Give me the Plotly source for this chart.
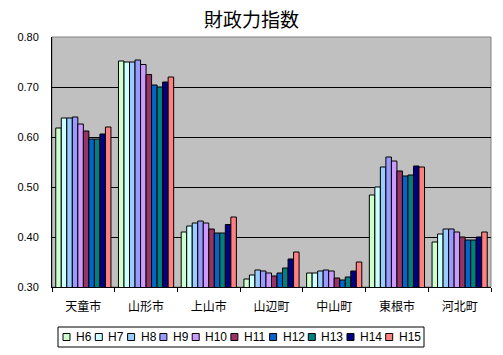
import plotly.graph_objects as go

categories = ["天童市", "山形市", "上山市", "山辺町", "中山町", "東根市", "河北町"]
series_names = ["H6", "H7", "H8", "H9", "H10", "H11", "H12", "H13", "H14", "H15"]

H6 = [0.618, 0.752, 0.410, 0.316, 0.328, 0.484, 0.390]
H7 = [0.638, 0.750, 0.422, 0.324, 0.328, 0.500, 0.406]
H8 = [0.638, 0.750, 0.428, 0.334, 0.332, 0.540, 0.416]
H9 = [0.640, 0.754, 0.432, 0.332, 0.334, 0.560, 0.416]
H10 = [0.626, 0.745, 0.428, 0.328, 0.332, 0.552, 0.410]
H11 = [0.612, 0.725, 0.416, 0.322, 0.318, 0.532, 0.400]
H12 = [0.596, 0.704, 0.408, 0.328, 0.314, 0.522, 0.394]
H13 = [0.596, 0.700, 0.408, 0.338, 0.320, 0.524, 0.394]
H14 = [0.606, 0.710, 0.425, 0.356, 0.332, 0.542, 0.400]
H15 = [0.620, 0.720, 0.440, 0.370, 0.350, 0.540, 0.410]

values = [H6, H7, H8, H9, H10, H11, H12, H13, H14, H15]
colors = ["#CCFFCC", "#CCFFFF", "#99CCFF", "#9999FF", "#CC99FF",
          "#993366", "#0066CC", "#008080", "#000080", "#FF8080"]

W, H = 503, 355
ML, MR, MT, MB = 52, 12, 37, 68
PW, PH = W - ML - MR, H - MT - MB

fig = go.Figure()
for name, vals, col in zip(series_names, values, colors):
    fig.add_trace(go.Bar(
        x=categories, y=vals, name=name, showlegend=False,
        marker=dict(color=col, line=dict(color="black", width=1)),
    ))

jp = "Noto Sans CJK JP"
fig.update_layout(
    width=W, height=H,
    margin=dict(l=ML, r=MR, t=MT, b=MB, autoexpand=False),
    paper_bgcolor="white", plot_bgcolor="#C0C0C0",
    barmode="group", bargap=0.12, bargroupgap=0,
    title=dict(text="財政力指数", x=0.5, xanchor="center", y=1 - 20 / H, yanchor="middle",
               font=dict(family=jp, size=19, color="black")),
    font=dict(family="Liberation Sans", size=11, color="black"),
    xaxis=dict(showline=True, linecolor="black", linewidth=1,
               ticks="outside", tickson="boundaries", ticklen=4, tickcolor="black",
               ticklabelstandoff=9,
               tickfont=dict(family=jp, size=12), showgrid=False, automargin=False),
    yaxis=dict(range=[0.30, 0.80], dtick=0.1, tickformat=".2f",
               showline=True, linecolor="black", linewidth=1,
               showgrid=True, gridcolor="black", gridwidth=1,
               ticks="", zeroline=False, ticklabelstandoff=10, automargin=False,
               tickfont=dict(family="Liberation Sans", size=11)),
)
fig.add_shape(type="rect", xref="paper", yref="paper", x0=0, x1=1, y0=0, y1=1,
              line=dict(color="#808080", width=1), layer="below")

# custom legend (single row, boxed) below the plot
def px_x(px):
    return (px - ML) / PW

def px_y(py):
    return (H - MB - py) / PH

box_l, box_r, box_t, box_b = 58, 424, 327, 347
fig.add_shape(type="rect", xref="paper", yref="paper",
              x0=px_x(box_l), x1=px_x(box_r), y0=px_y(box_b), y1=px_y(box_t),
              line=dict(color="black", width=1), fillcolor="white")
cx = 63.0
cy = (box_t + box_b) / 2
sq = 7
for name, col in zip(series_names, colors):
    fig.add_shape(type="rect", xref="paper", yref="paper",
                  x0=px_x(cx), x1=px_x(cx + sq), y0=px_y(cy + sq / 2), y1=px_y(cy - sq / 2),
                  line=dict(color="black", width=1), fillcolor=col)
    fig.add_annotation(xref="paper", yref="paper", x=px_x(cx + sq + 4), y=px_y(cy),
                       text=name, showarrow=False, xanchor="left", yanchor="middle",
                       font=dict(family="Liberation Sans", size=12, color="black"))
    cx += 32.3 + 6.4 * (len(name) - 2)

fig.write_html("out.html")
